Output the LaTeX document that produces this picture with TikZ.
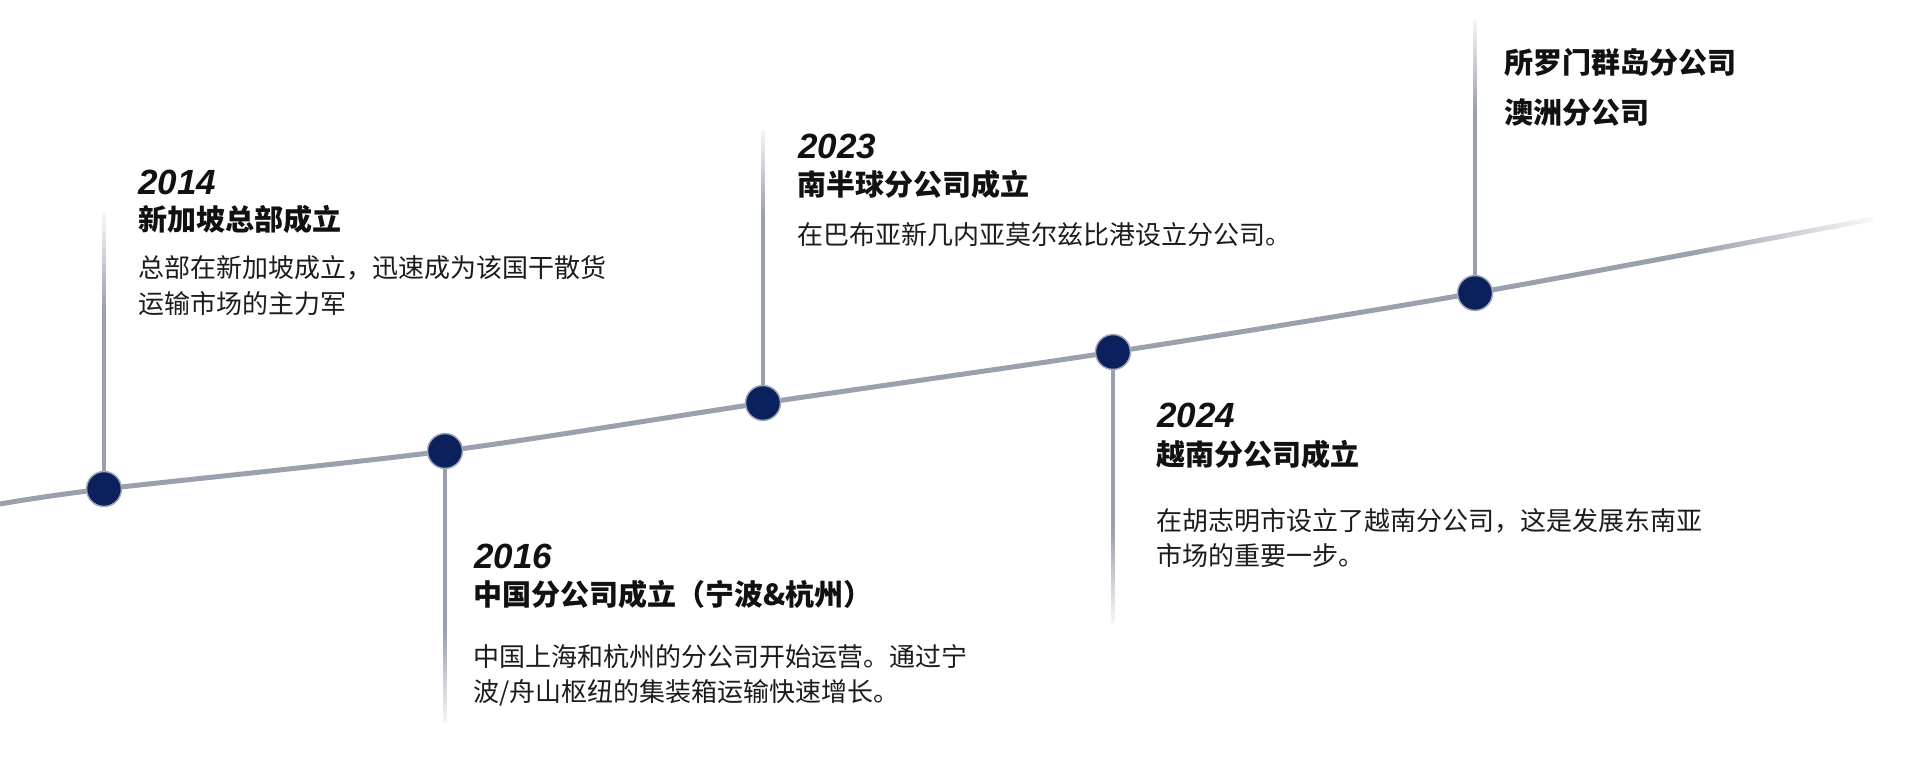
\documentclass[tikz,border=0pt]{standalone}
\usepackage{fontspec}
\setmainfont{Noto Sans CJK SC}
\newfontfamily\latinf{Liberation Sans}
\usetikzlibrary{fadings}
\definecolor{navy}{RGB}{10,33,94}
\definecolor{linegray}{RGB}{154,160,174}
\definecolor{ringgray}{RGB}{165,170,182}
\definecolor{txt}{RGB}{17,17,17}
\definecolor{bodytxt}{RGB}{28,28,28}
\tikzfading[name=fadeR, left color=transparent!100, right color=transparent!0]
\tikzfading[name=fadeT, top color=transparent!0, bottom color=transparent!100]
\tikzfading[name=fadeB, top color=transparent!100, bottom color=transparent!0]
\begin{document}
\begin{tikzpicture}[x=1pt,y=-1pt,
  dotnode/.style={circle, minimum size=35pt, inner sep=0pt, fill=navy, draw=ringgray, line width=1.5pt},
  mainline/.style={draw=linegray, line width=5pt},
  vline/.style={draw=linegray, line width=3.6pt},
  yr/.style={anchor=base west, inner sep=0pt, text=txt, font=\latinf\bfseries\itshape\fontsize{35}{40}\selectfont},
  ttl/.style={anchor=base west, inner sep=0pt, text=txt, font=\bfseries\fontsize{29}{34}\selectfont},
  bdy/.style={anchor=base west, inner sep=0pt, text=bodytxt, font=\fontsize{26}{30}\selectfont},
]
\fill[white] (0,0) rectangle (1920,757);
\useasboundingbox (0,0) rectangle (1920,757);
% anchor points
\coordinate (s0) at (0,504);
\coordinate (c1) at (104,489);
\coordinate (c2) at (445,451);
\coordinate (c3) at (763,403);
\coordinate (c4) at (1113,352);
\coordinate (c5) at (1475,293);
\coordinate (s6) at (1873,219);
\coordinate (t1) at (104,213);
\coordinate (t2) at (445,723);
\coordinate (t3) at (763,130);
\coordinate (t4) at (1113,623);
\coordinate (t5) at (1475,20);
% main line
\draw[mainline] plot[smooth, tension=0.5] coordinates {(s0) (c1) (c2) (c3) (c4) (c5) (s6)};
% vertical lines
\draw[vline] (c1) -- (t1);
\draw[vline] (c2) -- (t2);
\draw[vline] (c3) -- (t3);
\draw[vline] (c4) -- (t4);
\draw[vline] (c5) -- (t5);
% fades
\fill[white, path fading=fadeR] (1690,190) rectangle (1885,265);
\fill[white, path fading=fadeT] (94,205) rectangle (114,310);
\fill[white, path fading=fadeT] (753,122) rectangle (773,215);
\fill[white, path fading=fadeT] (1465,12) rectangle (1485,110);
\fill[white, path fading=fadeB] (435,630) rectangle (455,731);
\fill[white, path fading=fadeB] (1103,530) rectangle (1123,631);
% dots
\node[dotnode] (d1) at (c1) {};
\node[dotnode] (d2) at (c2) {};
\node[dotnode] (d3) at (c3) {};
\node[dotnode] (d4) at (c4) {};
\node[dotnode] (d5) at (c5) {};
% 2014
\node[yr] (y1) at (138,194) {2014};
\node[ttl] (h1) at (138,230) {新加坡总部成立};
\node[bdy] (b1a) at (138,277) {总部在新加坡成立，迅速成为该国干散货};
\node[bdy] (b1b) at (138,313) {运输市场的主力军};
% 2016
\node[yr] (y2) at (474,568) {2016};
\node[ttl] (h2) at (473,605) {中国分公司成立（宁波\&杭州）};
\node[bdy] (b2a) at (473,666) {中国上海和杭州的分公司开始运营。通过宁};
\node[bdy] (b2b) at (473,701) {波/舟山枢纽的集装箱运输快速增长。};
% 2023
\node[yr] (y3) at (798,158) {2023};
\node[ttl] (h3) at (797,195) {南半球分公司成立};
\node[bdy] (b3a) at (797,244) {在巴布亚新几内亚莫尔兹比港设立分公司。};
% 2024
\node[yr] (y4) at (1157,427) {2024};
\node[ttl] (h4) at (1156,465) {越南分公司成立};
\node[bdy] (b4a) at (1156,530) {在胡志明市设立了越南分公司，这是发展东南亚};
\node[bdy] (b4b) at (1156,565) {市场的重要一步。};
% last
\node[ttl] (h5a) at (1504,74) {所罗门群岛分公司};
\node[ttl] (h5b) at (1504,124) {澳洲分公司};
\end{tikzpicture}
\end{document}
